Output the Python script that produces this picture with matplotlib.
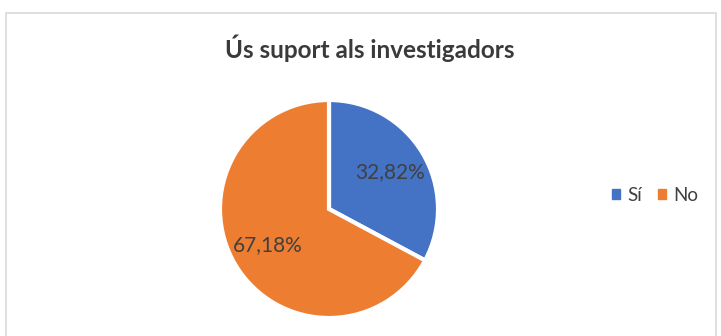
import matplotlib.pyplot as plt
from matplotlib.patches import Rectangle

categories = ["Sí", "No"]
values = [32.82, 67.18]
colors = ["#4472C4", "#ED7D31"]
title = "Ús suport als investigadors"

plt.rcParams['font.family'] = ['Lato', 'DejaVu Sans']

W, H = 721, 336
fig = plt.figure(figsize=(W / 100, H / 100), dpi=100)

# light frame like the Excel chart area
fig.patches.append(Rectangle((6 / W, -0.1), 710 / W, (H - 13) / H + 0.1,
                             transform=fig.transFigure, fill=False,
                             edgecolor="#D9D9D9", linewidth=1.2))

# pie centred at (329, 209) px, radius 109 px
cx, cy, r = 329, 209, 109
ax = fig.add_axes([(cx - r) / W, (H - cy - r) / H, 2 * r / W, 2 * r / H])

def fmt(p):
    return f"{p:.2f}%".replace(".", ",")

wedges, texts, autotexts = ax.pie(
    values, colors=colors, startangle=90, counterclock=False,
    autopct=fmt, pctdistance=0.65, radius=1,
    wedgeprops=dict(edgecolor="white", linewidth=3),
    textprops=dict(color="#404040", fontsize=15))
ax.set_xlim(-1, 1)
ax.set_ylim(-1, 1)
ax.axis("off")

fig.text(370 / W, 1 - 48 / H, title, ha="center", va="center",
         fontsize=17.5, fontweight="bold", color="#3A3A3A")

handles = [Rectangle((0, 0), 1, 1, color=c) for c in colors]
fig.legend(handles, categories, loc="center left",
           bbox_to_anchor=(595 / W, 1 - 195 / H), ncol=2, frameon=False,
           fontsize=13.5, handlelength=0.45, handleheight=0.45,
           handletextpad=0.4, columnspacing=0.8, labelcolor="#404040")

fig.savefig("out.png", dpi=100)
